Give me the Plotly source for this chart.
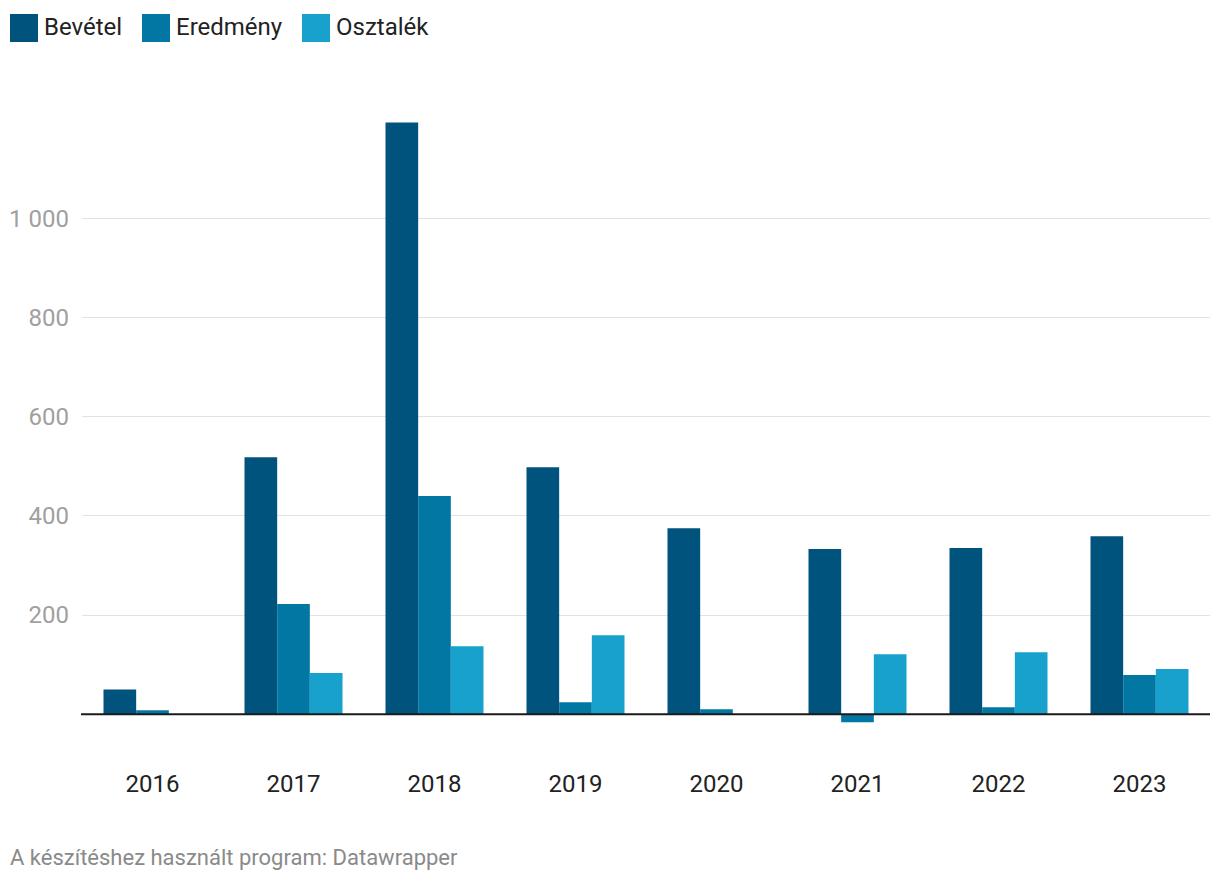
import plotly.graph_objects as go

years = ["2016", "2017", "2018", "2019", "2020", "2021", "2022", "2023"]
bevetel = [50, 518, 1193, 498, 375, 333, 335, 359]
eredmeny = [8, 222, 440, 24, 10, -16, 14, 79]
osztalek = [0, 83, 137, 159, 0, 121, 125, 91]

series = [("Bevétel", bevetel, "#00537c"),
          ("Eredmény", eredmeny, "#0377a3"),
          ("Osztalék", osztalek, "#18a1cd")]

y_ticks = [200, 400, 600, 800, 1000]
y_labels = ["200", "400", "600", "800", "1 000"]

# page offset (body margin) is 8px
OFF = 8
W, H = 1212, 874
PL, PR, PT, PB = 82 - OFF, 1210 - OFF, 119 - OFF, 744 - OFF
PW, PH = PR - PL, PB - PT


def px(x):
    return (x - OFF - PL) / PW


def py(y):
    return (PB - (y - OFF)) / PH


fig = go.Figure()
for name, vals, col in series:
    fig.add_trace(go.Bar(x=years, y=vals, name=name, marker_color=col,
                         marker_line_width=0, showlegend=False))

fig.update_layout(
    width=W, height=H,
    margin=dict(l=PL, r=W - PR, t=PT, b=H - PB, autoexpand=False),
    paper_bgcolor="white", plot_bgcolor="white",
    barmode="group", bargap=0.305, bargroupgap=0,
    font=dict(family="Roboto", size=24, color="#333333"),
    xaxis=dict(showgrid=False, showline=False, ticks="", ticklabelstandoff=23,
               automargin=False, tickfont=dict(size=24, color="#222222")),
    yaxis=dict(range=[-60, 1200], tickvals=y_ticks, ticktext=y_labels,
               showgrid=True, gridcolor="#e2e2e2", gridwidth=1,
               zeroline=False, ticks="", ticklabelstandoff=12, automargin=False,
               tickfont=dict(size=24, color="#a0a0a0")),
)
fig.add_shape(type="line", xref="paper", yref="y", x0=px(81), x1=1, y0=0, y1=0,
              line=dict(color="#1a1a1a", width=2))

# custom legend
leg_x = [10, 142, 302]
for (name, vals, col), lx in zip(series, leg_x):
    fig.add_shape(type="rect", xref="paper", yref="paper",
                  x0=px(lx), x1=px(lx + 28), y0=py(42), y1=py(14),
                  fillcolor=col, line_width=0)
    fig.add_annotation(xref="paper", yref="paper", x=px(lx + 32),
                       y=py(27), text=name, showarrow=False,
                       xanchor="left", yanchor="middle",
                       font=dict(size=24, color="#222222"))

fig.add_annotation(xref="paper", yref="paper", x=px(8),
                   y=py(857), text="A készítéshez használt program: Datawrapper",
                   showarrow=False, xanchor="left", yanchor="middle",
                   font=dict(size=22, color="#8a8a8a"))

fig.write_html("out.html")
